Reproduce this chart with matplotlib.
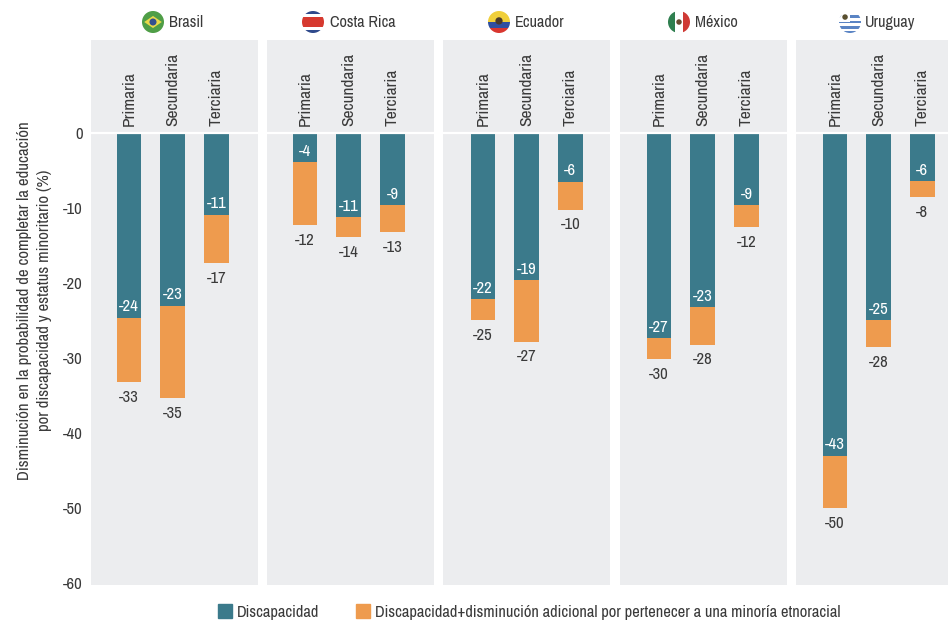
import numpy as np
import matplotlib.pyplot as plt
from matplotlib import font_manager as fm
from matplotlib.patches import Circle, Rectangle, Patch

# narrow face if this machine has one, otherwise plain Liberation Sans set smaller
installed = {f.name for f in fm.fontManager.ttflist}
if 'Archivo Narrow' in installed:
    plt.rcParams['font.family'] = ['Archivo Narrow', 'Liberation Sans', 'DejaVu Sans']
    FS = 1.0
else:
    plt.rcParams['font.family'] = ['Liberation Sans', 'DejaVu Sans']
    FS = 0.82
plt.rcParams['axes.unicode_minus'] = False

countries = ['Brasil', 'Costa Rica', 'Ecuador', 'México', 'Uruguay']
levels = ['Primaria', 'Secundaria', 'Terciaria']

# bar ends
disability = [[-24.6, -23.0, -10.9], [-3.9, -11.2, -9.6], [-22.1, -19.6, -6.5],
              [-27.3, -23.2, -9.6], [-43.0, -24.9, -6.4]]
combined = [[-33.2, -35.3, -17.3], [-12.3, -13.9, -13.2], [-24.9, -27.8, -10.2],
            [-30.1, -28.2, -12.5], [-50.0, -28.5, -8.5]]

# printed labels
disability_labels = [[-24, -23, -11], [-4, -11, -9], [-22, -19, -6],
                     [-27, -23, -9], [-43, -25, -6]]
combined_labels = [[-33, -35, -17], [-12, -14, -13], [-25, -27, -10],
                   [-30, -28, -12], [-50, -28, -8]]

y_ticks = [0, -10, -20, -30, -40, -50, -60]
legend_labels = ['Discapacidad',
                 'Discapacidad+disminución adicional por pertenecer a una minoría etnoracial']

TEAL = '#3b7a8b'
ORANGE = '#ee9b4e'
PANEL = '#ecedef'
TEXT = '#3a3a3a'

W, H = 948, 622
panel_left = [91, 267, 443, 620, 796]
panel_w = 167
panel_top, panel_bottom = 40, 585
bar_step = 43.7
bar_w = 24.5
first_bar = [38, 38, 40, 39, 39]  # px from panel edge to first bar centre


def px_axes(fig, left):
    return fig.add_axes([left / W, 1 - panel_bottom / H, panel_w / W, (panel_bottom - panel_top) / H])


def draw_flag(fig, name, cx, cy, r=11):
    # small round flag in pixel coordinates on an overlay axes
    ov = fig.add_axes([0, 0, 1, 1], facecolor='none')
    ov.set_xlim(0, W)
    ov.set_ylim(H, 0)
    ov.axis('off')
    clip = Circle((cx, cy), r, transform=ov.transData)

    def band(y0, y1, color):
        ov.add_patch(Rectangle((cx - r, cy + y0 * r), 2 * r, (y1 - y0) * r, color=color, clip_path=clip, lw=0))

    def col(x0, x1, color):
        ov.add_patch(Rectangle((cx + x0 * r, cy - r), (x1 - x0) * r, 2 * r, color=color, clip_path=clip, lw=0))

    if name == 'Brasil':
        band(-1, 1, '#4f9e47')
        ov.fill([cx - 0.8 * r, cx, cx + 0.8 * r, cx], [cy, cy - 0.55 * r, cy, cy + 0.55 * r], color='#e9d94a', lw=0)
        ov.add_patch(Circle((cx, cy), 0.32 * r, color='#34508f', lw=0))
    elif name == 'Costa Rica':
        band(-1, 1, '#ffffff')
        band(-1, -0.75, '#2f4a8c')
        band(0.75, 1, '#2f4a8c')
        band(-0.42, 0.42, '#d6392f')
    elif name == 'Ecuador':
        band(-1, 0, '#f0cf3a')
        band(0, 0.5, '#2f4fa0')
        band(0.5, 1, '#d9362f')
        ov.add_patch(Circle((cx, cy - 0.1 * r), 0.33 * r, color='#4a3a2a', lw=0))
    elif name == 'México':
        col(-1, -0.33, '#2f7f4f')
        col(-0.33, 0.33, '#ffffff')
        col(0.33, 1, '#cf3a35')
        ov.add_patch(Circle((cx, cy), 0.25 * r, color='#6a4a30', lw=0))
    else:
        band(-1, 1, '#ffffff')
        for y0 in (-0.62, -0.12, 0.38, 0.8):
            band(y0, y0 + 0.22, '#5a84c4')
        ov.add_patch(Rectangle((cx - r, cy - r), r, r, color='#ffffff', clip_path=clip, lw=0))
        ov.add_patch(Circle((cx - 0.45 * r, cy - 0.45 * r), 0.25 * r, color='#5a5030', lw=0))


fig = plt.figure(figsize=(W / 100, H / 100), dpi=100, facecolor='white')

for i, country in enumerate(countries):
    ax = px_axes(fig, panel_left[i])
    ax.set_facecolor(PANEL)
    for s in ax.spines.values():
        s.set_visible(False)

    x = np.arange(len(levels))
    ax.bar(x, combined[i], width=bar_w / bar_step, color=ORANGE, zorder=2)
    ax.bar(x, disability[i], width=bar_w / bar_step, color=TEAL, zorder=3)
    ax.axhline(0, color='white', lw=1.6, zorder=4)

    x0 = -first_bar[i] / bar_step
    ax.set_xlim(x0, x0 + panel_w / bar_step)
    ax.set_ylim(-60.2, 12.4)
    ax.set_xticks([])
    ax.set_yticks(y_ticks if i == 0 else [])
    ax.tick_params(axis='y', length=0, pad=6, labelsize=12 * FS, labelcolor=TEXT)

    for j, level in enumerate(levels):
        ax.text(j, 0.9, level, rotation=90, ha='center', va='bottom', fontsize=12.5 * FS, color=TEXT)
        ax.annotate(str(disability_labels[i][j]), (j, disability[i][j]), xytext=(0, 2.5),
                    textcoords='offset points', ha='center', va='bottom',
                    fontsize=12 * FS, color='white', zorder=5)
        ax.annotate(str(combined_labels[i][j]), (j, combined[i][j]), xytext=(0, -5.5),
                    textcoords='offset points', ha='center', va='top',
                    fontsize=12 * FS, color=TEXT, zorder=5)

    if i == 0:
        ax.set_ylabel('Disminución en la probabilidad de completar la educación\n'
                      'por discapacidad y estatus minoritario (%)',
                      fontsize=12.1 * FS, color=TEXT, labelpad=8, linespacing=1.4, y=0.522)

# country headers: flag + name
flag_x = [153, 313, 499, 679, 850]
name_x = [169, 330, 515, 695, 865]
for country, fx, nx in zip(countries, flag_x, name_x):
    draw_flag(fig, country, fx, 22)
    fig.text(nx / W, 1 - 27 / H, country, ha='left', va='baseline', fontsize=11.7 * FS, color=TEXT)

handles = [Patch(color=TEAL), Patch(color=ORANGE)]
fig.legend(handles, legend_labels, loc='lower left', bbox_to_anchor=(218 / W, 2 / H), ncol=2,
           frameon=False, fontsize=11.9 * FS, labelcolor=TEXT, handlelength=0.85, handleheight=0.9,
           handletextpad=0.3, columnspacing=2.2, borderpad=0, borderaxespad=0)

fig.savefig('out.png', dpi=100)
